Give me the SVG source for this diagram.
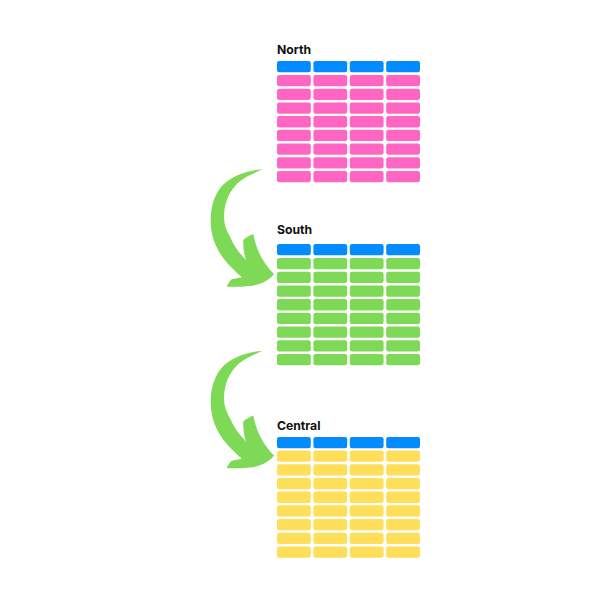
<svg xmlns="http://www.w3.org/2000/svg" xmlns:xlink="http://www.w3.org/1999/xlink" width="600" height="600" viewBox="0 0 600 600">
<style>
text{font-family:"Inter","Liberation Sans",sans-serif;font-weight:700;font-size:12.2px;fill:#111}
.h{fill:#028cff}.p{fill:#ff66c4}.g{fill:#7ed957}.y{fill:#ffde59}
.arrow{fill:#7ed957}
</style>
<defs>
<rect id="c" width="33.8" height="11.3" rx="2.2"/>
<g id="row"><use xlink:href="#c" x="277"/><use xlink:href="#c" x="313.4"/><use xlink:href="#c" x="349.8"/><use xlink:href="#c" x="386.2"/></g>
<g id="rows"><use xlink:href="#row" y="0"/><use xlink:href="#row" y="13.7"/><use xlink:href="#row" y="27.4"/><use xlink:href="#row" y="41.1"/><use xlink:href="#row" y="54.8"/><use xlink:href="#row" y="68.5"/><use xlink:href="#row" y="82.2"/><use xlink:href="#row" y="95.9"/></g>
<path id="a" d="M262.3 169.3C246 170.5 231 176 221 187C213 197 210.5 210 210.7 222C211 240 219 255 231 267C235 271 238 274 241.7 277.3C238 278 235 278.5 231.7 279.3C229.5 281 228 284 226.7 286.7C235 287 243 286.8 250 286C259 285 269 281 274 274C269 269 266 265 263 260C258 252 255 243 253.3 234C249.5 236 246 237 243.3 240C243 247 244 254 246 260C239 253 233.5 245 230 236.7C226 230 224 224 224 216.7C224 208 226 200 230 193C234 187 237 183 241 180.5C247 176 255 173 262.3 169.3Z"/>
</defs>
<g id="connectors">
<use xlink:href="#a" class="arrow"/>
<use xlink:href="#a" class="arrow" y="181.5"/>
</g>
<g id="north">
<text x="277" y="54">North</text>
<use xlink:href="#row" y="61" class="h"/>
<use xlink:href="#rows" y="75" class="p"/>
</g>
<g id="south">
<text x="277" y="234">South</text>
<use xlink:href="#row" y="244" class="h"/>
<use xlink:href="#rows" y="258" class="g"/>
</g>
<g id="central">
<text x="277" y="430">Central</text>
<use xlink:href="#row" y="437" class="h"/>
<use xlink:href="#rows" y="450.5" class="y"/>
</g>
</svg>
